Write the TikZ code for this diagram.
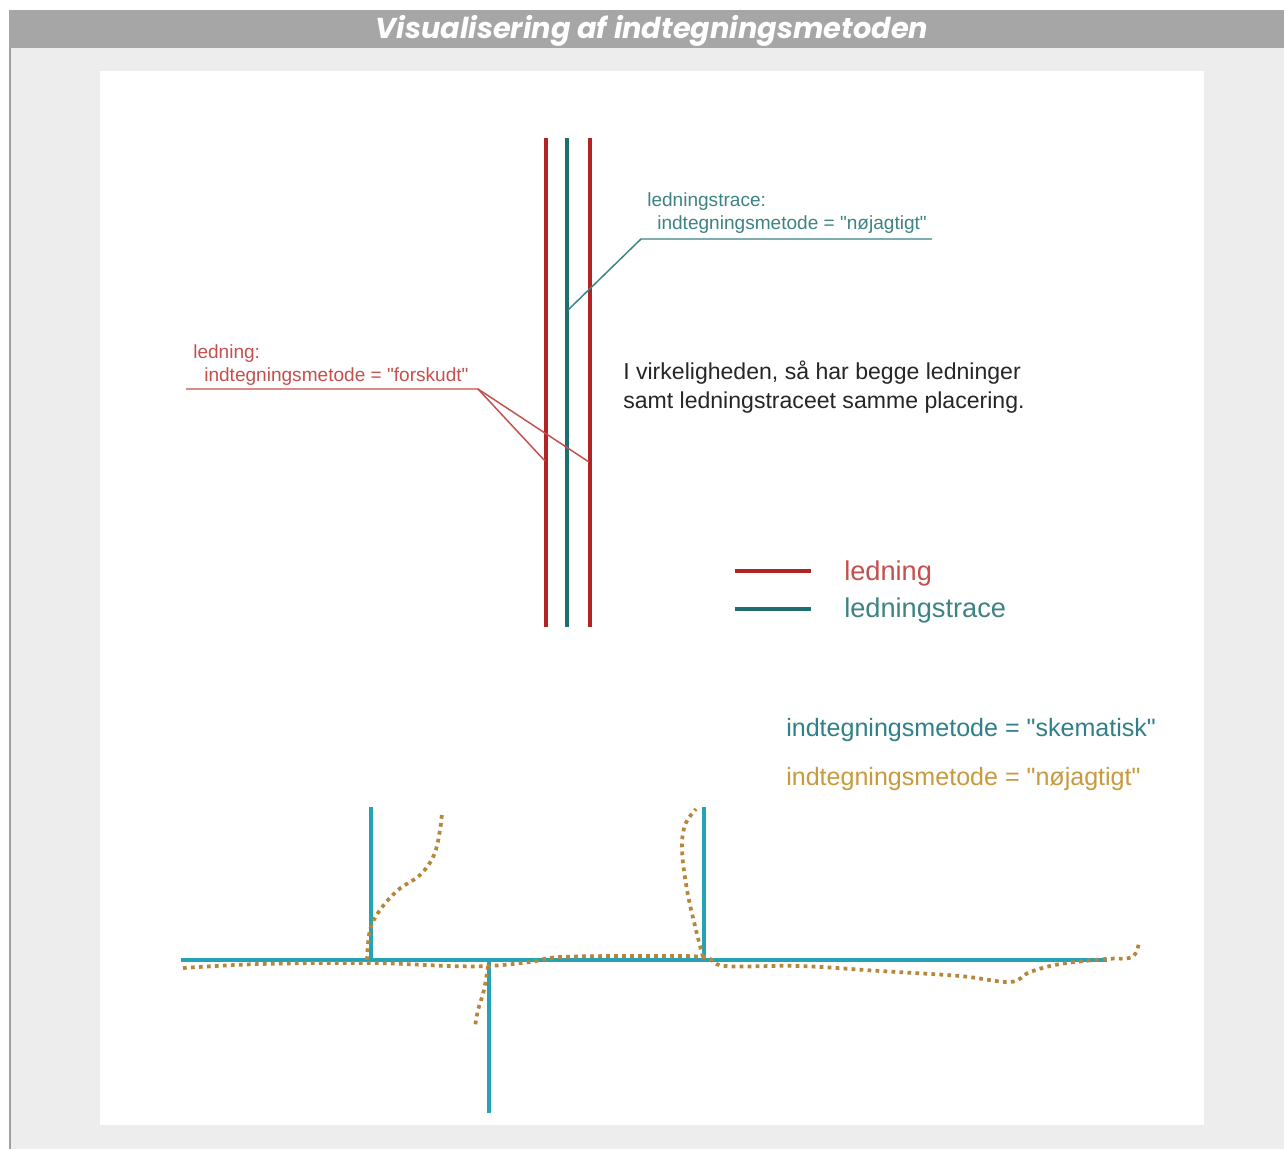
\documentclass[tikz,border=0pt]{standalone}
\usepackage{fontspec}
\setmainfont{Liberation Sans}
\newfontfamily\plainfont{Liberation Sans}
\newfontfamily\titlefont{Poppins}
\newcommand\sq{{\plainfont\char34\relax}}
\definecolor{headgray}{HTML}{A6A6A6}
\definecolor{panelgray}{HTML}{EDEDED}
\definecolor{bordergray}{HTML}{A0A0A0}
\definecolor{ldred}{HTML}{B22424}
\definecolor{ldredlight}{HTML}{C4504E}
\definecolor{ldteal}{HTML}{1F6E6E}
\definecolor{ldteallight}{HTML}{3D8383}
\definecolor{skcyan}{HTML}{24A2B6}
\definecolor{skteal}{HTML}{2F8088}
\definecolor{njgold}{HTML}{B8863B}
\definecolor{njgoldtext}{HTML}{C79A3C}
\tikzset{
  mainred/.style={draw=ldred, line width=2.4pt},
  mainteal/.style={draw=ldteal, line width=2.4pt},
  leaderred/.style={draw=ldredlight, line width=1.1pt},
  leaderteal/.style={draw=ldteallight, line width=1.1pt},
  skline/.style={draw=skcyan, line width=2.4pt},
  njdots/.style={draw=njgold, line width=2.8pt, dash pattern=on 2.8pt off 3.2pt},
  smalllbl/.style={anchor=mid west, inner sep=0pt, font=\plainfont\fontsize{14.3pt}{16pt}\selectfont},
  biglbl/.style={anchor=mid west, inner sep=0pt, font=\plainfont\fontsize{20.4pt}{24pt}\selectfont},
  midlbl/.style={anchor=mid west, inner sep=0pt, font=\plainfont\fontsize{18.8pt}{22pt}\selectfont},
  bodylbl/.style={anchor=mid west, inner sep=0pt, font=\plainfont\fontsize{17.3pt}{20pt}\selectfont}
}
\begin{document}
\begin{tikzpicture}[x=0.75pt,y=-0.75pt]
\useasboundingbox (0,0) rectangle (1284,1149);
\fill[white] (0,0) rectangle (1284,1149);
\fill[panelgray] (9,48) rectangle (1284,1149);
\fill[headgray] (9,10) rectangle (1284,48);
\draw[bordergray, line width=1.2pt] (9.8,48) -- (9.8,1149);
\fill[white] (100,71) rectangle (1204,1125);
\node[text=white, inner sep=0pt, font=\titlefont\fontsize{21.6pt}{24pt}\selectfont\bfseries\itshape] (title) at (652,31) {Visualisering af indtegningsmetoden};

% upper part: vertical lines
\coordinate (r1t) at (546,138); \coordinate (r1b) at (546,627);
\coordinate (tt) at (567,138);  \coordinate (tb) at (567,627);
\coordinate (r2t) at (590,138); \coordinate (r2b) at (590,627);
\draw[mainred] (r1t) -- (r1b);
\draw[mainteal] (tt) -- (tb);
\draw[mainred] (r2t) -- (r2b);

% red leader
\node[smalllbl, text=ldredlight] (lednlbl) at (193,355) {ledning:};
\node[smalllbl, text=ldredlight] (lednval) at (204,378) {indtegningsmetode = \sq forskudt\sq};
\coordinate (rlstart) at (186,389);
\coordinate (rlknee) at (478,389);
\coordinate (rlend1) at (545,461);
\coordinate (rlend2) at (589,462);
\draw[leaderred] (rlstart) -- (rlknee) -- (rlend1);
\draw[leaderred] (rlknee) -- (rlend2);

% teal leader
\node[smalllbl, text=ldteallight] (tracelbl) at (647,203) {ledningstrace:};
\node[smalllbl, text=ldteallight] (traceval) at (657,226) {indtegningsmetode = \sq nøjagtigt\sq};
\coordinate (tlend) at (568,310);
\coordinate (tlknee) at (641,239);
\coordinate (tlstart) at (932,239);
\draw[leaderteal] (tlend) -- (tlknee) -- (tlstart);

% explanation
\node[bodylbl, text=black!85] (expl1) at (623,376) {I virkeligheden, så har begge ledninger};
\node[bodylbl, text=black!85] (expl2) at (623,405) {samt ledningstraceet samme placering.};

% legend
\coordinate (lg1a) at (735,571); \coordinate (lg1b) at (811,571);
\coordinate (lg2a) at (735,609); \coordinate (lg2b) at (811,609);
\draw[draw=ldred, line width=3pt] (lg1a) -- (lg1b);
\draw[draw=ldteal, line width=3pt] (lg2a) -- (lg2b);
\node[biglbl, text=ldredlight] (lgled) at (844,577) {ledning};
\node[biglbl, text=ldteallight] (lgtrace) at (844,614) {ledningstrace};

% lower legend
\node[midlbl, text=skteal] (sklbl) at (786,733) {indtegningsmetode = \sq skematisk\sq};
\node[midlbl, text=njgoldtext] (njlbl) at (786,782) {indtegningsmetode = \sq nøjagtigt\sq};

% schematic cyan lines
\coordinate (hmL) at (181,960); \coordinate (hmR) at (1107,960);
\coordinate (v1t) at (371,807); \coordinate (v1b) at (371,960);
\coordinate (v2t) at (704,807); \coordinate (v2b) at (704,960);
\coordinate (v3t) at (489,960); \coordinate (v3b) at (489,1113);
\draw[skline] (hmL) -- (hmR);
\draw[skline] (v1t) -- (v1b);
\draw[skline] (v2t) -- (v2b);
\draw[skline] (v3t) -- (v3b);

% precise dotted lines
\draw[njdots] plot[smooth, tension=0.6] coordinates {(183,968) (260,964) (370,963) (450,966) (489,966) (530,962) (560,957) (640,956) (703,957) (725,966) (800,966) (880,971) (960,976) (1010,982) (1030,972) (1060,964) (1105,959) (1132,957) (1139,942)};
\draw[njdots] plot[smooth, tension=0.6] coordinates {(367,960) (370,930) (380,910) (398,890) (420,875) (434,855) (440,830) (442,812)};
\draw[njdots] plot[smooth, tension=0.6] coordinates {(703,957) (696,930) (687,890) (682,850) (685,825) (696,809)};
\draw[njdots] plot[smooth, tension=0.6] coordinates {(488,966) (484,990) (478,1010) (475,1027)};
\end{tikzpicture}
\end{document}
